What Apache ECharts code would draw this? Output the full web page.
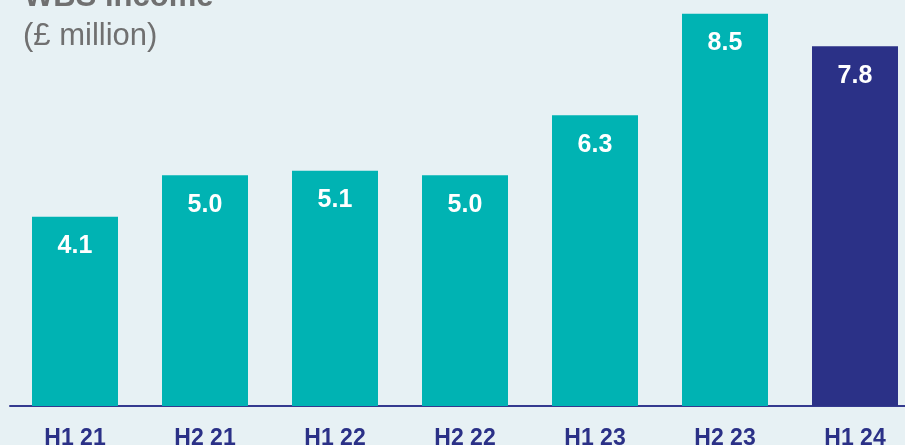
<!DOCTYPE html>
<html>
<head>
<meta charset="utf-8">
<script src="https://cdn.jsdelivr.net/npm/echarts@6/dist/echarts.min.js"></script>
<style>
html,body{margin:0;padding:0;background:#e7f1f4;}
#c{width:905px;height:445px;}
</style>
</head>
<body>
<div id="c"></div>
<script>
const categories = ['H1 21','H2 21','H1 22','H2 22','H1 23','H2 23','H1 24'];
const income = [4.1, 5.0, 5.1, 5.0, 6.3, 8.5, 7.8];
const titleText = 'WBS income';
const unitText = '(£ million)';

const TEAL = '#00b3b3';
const NAVY = '#2b3187';
const GREY = '#707070';

const chart = echarts.init(document.getElementById('c'), null, {renderer:'canvas'});
const seriesData = income.map((v,i) => i === income.length - 1 ? {value:v, itemStyle:{color:NAVY}} : v);

chart.setOption({
  backgroundColor:'#e7f1f4',
  animation:false,
  grid:{left:10, top:0, width:910, height:406, outerBoundsMode:'none', containLabel:false},
  graphic:[
    {type:'text', left:24, top:-18, style:{text:titleText, fontFamily:'Liberation Sans, Arial', fontWeight:'bold', fontSize:31, fill:GREY}},
    {type:'text', left:23, top:21, style:{text:unitText, fontFamily:'Liberation Sans, Arial', fontSize:31, fill:GREY}}
  ],
  xAxis:{
    type:'category', data:categories,
    axisLine:{show:true, lineStyle:{color:'#343a8f', width:2}},
    axisTick:{show:false},
    axisLabel:{color:NAVY, fontFamily:'Liberation Sans, Arial', fontWeight:'bold', fontSize:23, margin:21}
  },
  yAxis:{type:'value', min:0, max:8.8, show:false, splitLine:{show:false}},
  series:[{
    type:'bar', data:seriesData, barWidth:86,
    itemStyle:{color:TEAL},
    label:{show:true, position:'insideTop', distance:17, color:'#ffffff', fontFamily:'Liberation Sans, Arial', fontWeight:'bold', fontSize:25,
      formatter: p => Number(p.value).toFixed(1)}
  }]
});
</script>
</body>
</html>
